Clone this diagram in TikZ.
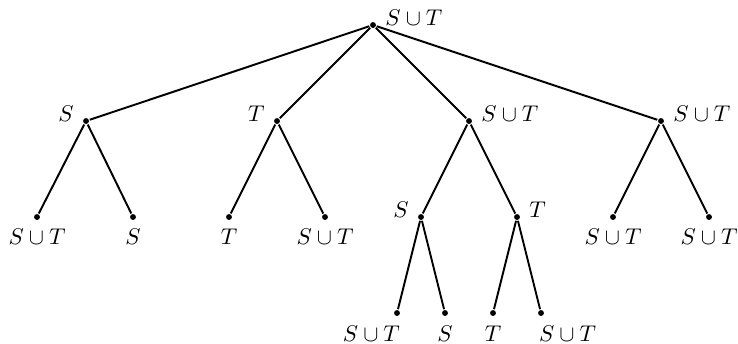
\documentclass[tikz,border=0pt]{standalone}
\usepackage{tikz}
\usepackage{amsmath,amssymb}
\tikzset{vtx/.style={circle,fill=black,inner sep=0pt,minimum size=2.6pt},
  lft/.style={label={[anchor=base east]west:#1}},
  rgt/.style={label={[anchor=base west]east:#1}},
  bel/.style={label=below:#1},
  bellft/.style={label={[anchor=north east,inner xsep=0pt,xshift=1.7pt]south:#1}},
  belrgt/.style={label={[anchor=north west,inner xsep=0pt,xshift=-1.3pt]south:#1}}}

\begin{document}
\begin{tikzpicture}[x=0.44pt,y=-0.44pt,line width=0.85pt]
\useasboundingbox (0,0) rectangle (738,343);
% \draw[help lines] (0,0) grid (738,343);
\node (r) [vtx,rgt={$S\cup T$}] at (373,25) {};
%
\node (a1) [vtx,lft={$S$}] at (86,121) {};
\node (a2) [vtx,lft={$T$}] at (277,121) {};
\node (a3) [vtx,rgt={$S\cup T$}] at (469,121) {};
\node (a4) [vtx,rgt={$S\cup T$}] at (661,121) {};
%
\node (b1) [vtx,bel={$S\cup T$}] at (37,217) {};
\node (b2) [vtx,bel={$S$}] at (133,217) {};
\node (b3) [vtx,bel={$T$}] at (229,217) {};
\node (b4) [vtx,bel={$S\cup T$}] at (325,217) {};
\node (b5) [vtx,lft={$S$}] at (421,217) {};
\node (b6) [vtx,rgt={$T$}] at (517,217) {};
\node (b7) [vtx,bel={$S\cup T$}] at (613,217) {};
\node (b8) [vtx,bel={$S\cup T$}] at (709,217) {};
%
\node (c1) [vtx,bellft={$S\cup T$}] at (397,313) {};
\node (c2) [vtx,bel={$S$}] at (445,313) {};
\node (c3) [vtx,bel={$T$}] at (493,313) {};
\node (c4) [vtx,belrgt={$S\cup T$}] at (541,313) {};
%
\draw (r) -- (a1);
\draw (r) -- (a2);
\draw (r) -- (a3);
\draw (r) -- (a4);
\draw (a1) -- (b1);
\draw (a1) -- (b2);
\draw (a2) -- (b3);
\draw (a2) -- (b4);
\draw (a3) -- (b5);
\draw (a3) -- (b6);
\draw (a4) -- (b7);
\draw (a4) -- (b8);
\draw (b5) -- (c1);
\draw (b5) -- (c2);
\draw (b6) -- (c3);
\draw (b6) -- (c4);
\end{tikzpicture}
\end{document}
